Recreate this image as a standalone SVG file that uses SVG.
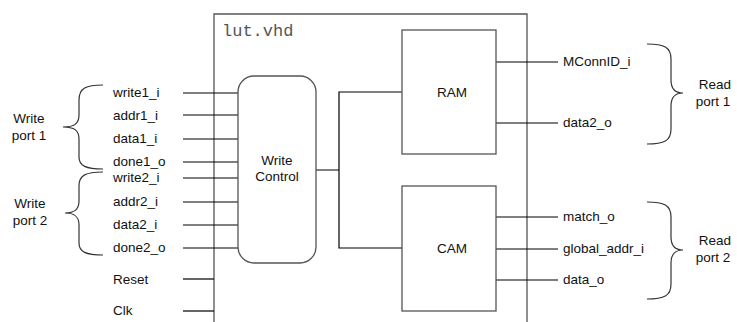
<svg xmlns="http://www.w3.org/2000/svg" width="737" height="322" viewBox="0 0 737 322">
<style>
.box{fill:#fff;stroke:#555;stroke-width:1.3}
.ln{stroke:#000;stroke-width:1.2;fill:none}
.br{stroke:#333;stroke-width:1.2;fill:none}
.t{font-family:"Liberation Sans",Arial,sans-serif;font-size:13.5px;fill:#111}
.m{text-anchor:middle}
.mono{font-family:"Liberation Mono","Courier New",monospace;font-size:17px;fill:#555}
</style>
<rect width="737" height="322" fill="#fff"/>
<g id="lut">
<path class="box" d="M214,330 L214,14 L527,14 L527,330"/>
<text class="mono" x="222" y="36">lut.vhd</text>
</g>
<g id="connectors">
<line class="ln" x1="183" y1="93" x2="238" y2="93"/>
<line class="ln" x1="183" y1="115" x2="238" y2="115"/>
<line class="ln" x1="183" y1="139" x2="238" y2="139"/>
<line class="ln" x1="183" y1="162" x2="238" y2="162"/>
<line class="ln" x1="183" y1="178" x2="238" y2="178"/>
<line class="ln" x1="183" y1="202" x2="238" y2="202"/>
<line class="ln" x1="183" y1="225" x2="238" y2="225"/>
<line class="ln" x1="183" y1="248" x2="238" y2="248"/>
<line class="ln" x1="183" y1="279" x2="214" y2="279"/>
<line class="ln" x1="183" y1="311" x2="214" y2="311"/>
<path class="ln" d="M316,170 H339 M402,92 H339 V248 H402"/>
<line class="ln" x1="496" y1="62" x2="558" y2="62"/>
<line class="ln" x1="496" y1="123" x2="558" y2="123"/>
<line class="ln" x1="496" y1="217" x2="558" y2="217"/>
<line class="ln" x1="496" y1="249" x2="558" y2="249"/>
<line class="ln" x1="496" y1="280" x2="558" y2="280"/>
</g>
<g id="write-control">
<rect class="box" x="238" y="76" width="78" height="187" rx="16" ry="16"/>
<text class="t m" x="277" y="165">Write</text>
<text class="t m" x="277" y="181">Control</text>
</g>
<g id="ram">
<rect class="box" x="402" y="30" width="94" height="124"/>
<text class="t m" x="452" y="97">RAM</text>
</g>
<g id="cam">
<rect class="box" x="402" y="186" width="94" height="125"/>
<text class="t m" x="452" y="253">CAM</text>
</g>
<g id="left-labels">
<text class="t" x="113" y="97">write1_i</text>
<text class="t" x="113" y="120">addr1_i</text>
<text class="t" x="113" y="143">data1_i</text>
<text class="t" x="113" y="166">done1_o</text>
<text class="t" x="113" y="182">write2_i</text>
<text class="t" x="113" y="206">addr2_i</text>
<text class="t" x="113" y="229">data2_i</text>
<text class="t" x="113" y="252">done2_o</text>
<text class="t" x="113" y="284">Reset</text>
<text class="t" x="113" y="315">Clk</text>
</g>
<g id="right-labels">
<text class="t" x="563" y="66">MConnID_i</text>
<text class="t" x="563" y="127">data2_o</text>
<text class="t" x="563" y="221">match_o</text>
<text class="t" x="563" y="253">global_addr_i</text>
<text class="t" x="563" y="284">data_o</text>
</g>
<g id="write-port-1">
<path class="br" d="M103,85 C86,85 79,88 79,100 L79,115 C79,124 74,127 63,127 C74,127 79,130 79,139 L79,157 C79,166 86,169 103,169"/>
<text class="t m" x="29" y="123">Write</text>
<text class="t m" x="29" y="140">port 1</text>
</g>
<g id="write-port-2">
<path class="br" d="M103,172 C86,172 79,175 79,186 L79,201 C79,210 74,213 65,213 C74,213 79,216 79,225 L79,243 C79,252 86,255 103,255"/>
<text class="t m" x="30" y="208">Write</text>
<text class="t m" x="30" y="225">port 2</text>
</g>
<g id="read-port-1">
<path class="br" d="M647,44 C664,44 671,47 671,59 L671,80 C671,89 676,93 683,93 C676,93 671,97 671,106 L671,129 C671,141 664,144 647,144"/>
<text class="t m" x="715" y="89">Read</text>
<text class="t m" x="713" y="106">port 1</text>
</g>
<g id="read-port-2">
<path class="br" d="M647,202 C664,202 671,205 671,217 L671,237 C671,246 676,250 683,250 C676,250 671,254 671,263 L671,284 C671,296 664,299 647,299"/>
<text class="t m" x="715" y="245">Read</text>
<text class="t m" x="713" y="262">port 2</text>
</g>
</svg>
